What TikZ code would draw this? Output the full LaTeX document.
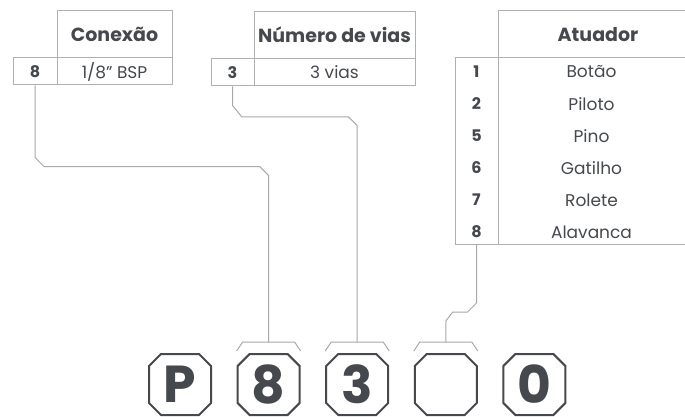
\documentclass[tikz,border=0pt]{standalone}
\usepackage{fontspec}
\setmainfont{Poppins}
\usepackage{tikz}
\usetikzlibrary{shapes.misc}
\usetikzlibrary{calc}
\definecolor{ink}{HTML}{45484C}
\definecolor{rule}{HTML}{B0B0B0}
\definecolor{wire}{HTML}{A8A8A8}

\begin{document}
\begin{tikzpicture}[x=1pt, y=-1pt, font=\fontsize{17}{19}\selectfont, text=ink]
                \tikzstyle{cell} = [draw=rule, line width=1pt, inner sep=0pt, minimum height=27pt]
                \tikzstyle{head} = [cell, minimum height=47pt, font=\fontsize{19}{21}\selectfont\bfseries]
                \tikzstyle{num} = [font=\fontsize{16}{18}\selectfont\bfseries]
                \tikzstyle{code} = [draw=ink, line width=2pt, chamfered rectangle, chamfered rectangle xsep=6pt,
                                    chamfered rectangle ysep=6pt,
                                    minimum width=62pt, minimum height=61pt, inner sep=0pt, text depth=0pt,
                                    font=\fontsize{52}{52}\selectfont\bfseries]
                \tikzstyle{wire} = [draw=wire, line width=1pt]
                \useasboundingbox (0,0) rectangle (685,417);

                % Conexao
                \node[head, minimum width=115pt] (hCon) at (114.5,34.5) {Conexão};
                \node[cell, num, minimum width=44pt] (nCon) at (35,71.5) {8};
                \node[cell, minimum width=115pt] (vCon) at (114.5,71.5) {1/8" BSP};

                % Numero de vias
                \node[head, minimum width=161pt] (hVia) at (334.5,35) {Número de vias};
                \node[cell, num, minimum width=43pt] (nVia) at (232.5,72.5) {3};
                \node[cell, minimum width=161pt] (vVia) at (334.5,72.5) {3 vias};

                % Atuador
                \node[head, minimum width=200pt] (hAtu) at (598,34.5) {Atuador};
                \node[cell, minimum width=43pt, minimum height=186pt] (nAtu) at (476.5,151) {};
                \node[cell, minimum width=200pt, minimum height=186pt] (vAtu) at (598,151) {};
                \foreach \n/\t [count=\i] in {1/Botão, 2/Piloto, 5/Pino, 6/Gatilho, 7/Rolete, 8/Alavanca} {
                        \node[num] (n\i) at (476.5,40+32*\i) {\n};
                        \node (v\i) at (591.5,40+32*\i) {\t};
                }

                % Codigo
                \node[code] (bP) at (180,384.5) {P};
                \node[code] (b8) at (268.6,384.5) {8};
                \node[code] (b3) at (357.2,384.5) {3};
                \node[code] (bA) at (445.8,384.5) {\phantom{0}};
                \node[code] (b0) at (534.4,384.5) {0};

                \foreach \b in {b8, b3, bA} {
                        \coordinate (k\b) at ($(\b.north)+(0,-11)$);
                        \draw[wire] ($(k\b)+(-32,9)$) -- ++(6,-9) -- ++(52,0) -- ++(6,9);
                }

                % Ligacoes
                \draw[wire] (nCon.south) -- (35,157.5) -- (44,166.5) -- (259.6,166.5) -- (268.6,175.5) -- (kb8);
                \draw[wire] (nVia.south) -- (232.5,105.5) -- (242,117) -- (348.7,117) -- (357.2,125.5) -- (kb3);
                \draw[wire] (nAtu.south) -- (476.5,303) -- (467.5,312) -- (452.8,312) -- (445.8,321) -- (kbA);
\end{tikzpicture}
\end{document}
